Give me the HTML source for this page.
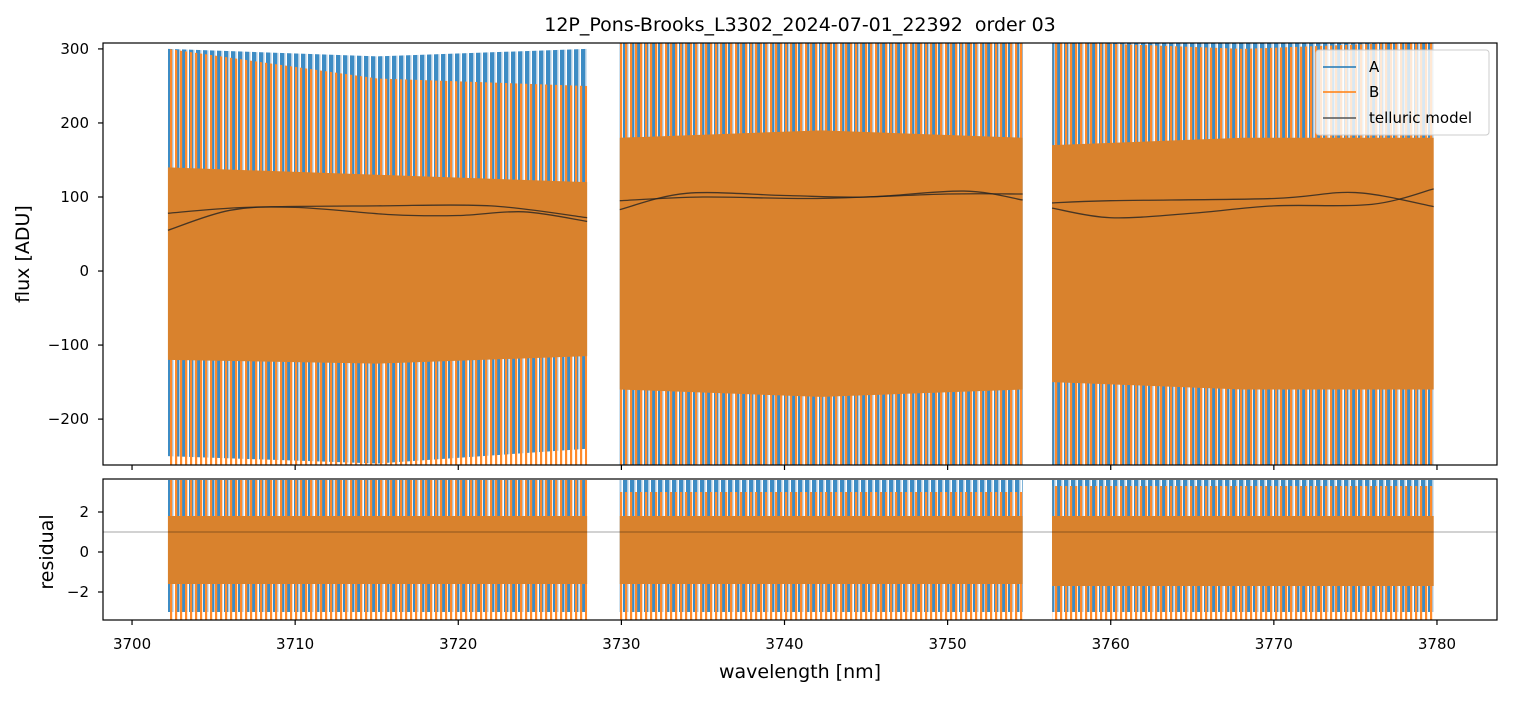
<!DOCTYPE html>
<html><head><meta charset="utf-8"><style>
body{margin:0;background:#fff;}
svg text{font-family:"DejaVu Sans","Liberation Sans",sans-serif;fill:#000;}
</style></head><body>
<svg id="c" width="1513" height="696" xmlns="http://www.w3.org/2000/svg"></svg>
<script>
// ---- data ----
const segStart = [3702.2, 3729.9, 3756.4];
const segEnd = [3727.9, 3754.6, 3779.8];
// flux envelopes per segment (at start, middle, end)
const aUpper = [[300, 290, 300], [310, 310, 310], [310, 310, 310]];
const aLower = [[-250, -260, -240], [-262, -262, -262], [-262, -262, -262]];
const bUpper = [[300, 260, 250], [310, 310, 310], [310, 300, 310]];
const bLower = [[-262, -262, -262], [-262, -262, -262], [-262, -262, -262]];
const coreUpper = [[140, 130, 120], [180, 190, 180], [170, 180, 180]];
const coreLower = [[-120, -125, -115], [-160, -170, -160], [-150, -160, -160]];
// telluric models
const tellWl = [[3702.2, 3707, 3715, 3722, 3727.9], [3729.9, 3735, 3742, 3750, 3754.6], [3756.4, 3760, 3770, 3775, 3779.8]];
const tellA = [[78, 86, 88, 88, 72], [95, 100, 98, 104, 104], [92, 95, 98, 106, 87]];
const tellWl2 = [[3702.2, 3706, 3710, 3716, 3720, 3724, 3727.9], [3729.9, 3734, 3740, 3745, 3751, 3754.6], [3756.4, 3760, 3765, 3770, 3776, 3779.8]];
const tellB = [[55, 82, 86, 76, 75, 80, 67], [83, 105, 102, 100, 108, 96], [85, 72, 78, 88, 90, 111]];
// residual envelopes
const rAUpper = [3.6, 3.6, 3.6];
const rALower = [-3.0, -3.0, -3.0];
const rBUpper = [3.6, 3.0, 3.3];
const rBLower = [-3.4, -3.4, -3.4];
const rCoreUpper = [1.8, 1.8, 1.8];
const rCoreLower = [-1.6, -1.6, -1.7];
const residRef = 1.0;
const xTicks = [3700, 3710, 3720, 3730, 3740, 3750, 3760, 3770, 3780];
const yTicksTop = [-200, -100, 0, 100, 200, 300];
const yTicksBot = [-2, 0, 2];

// ---- axes ----
const L = 103, R = 1497;
const T1 = 43, B1 = 465, T2 = 479, B2 = 620;
const xMin = 3698.22, xMax = 3783.68;
const y1Min = -262, y1Max = 308, y2Min = -3.4, y2Max = 3.65;
const X = v => L + (v - xMin) / (xMax - xMin) * (R - L);
const Y1 = v => B1 - (v - y1Min) / (y1Max - y1Min) * (B1 - T1);
const Y2 = v => B2 - (v - y2Min) / (y2Max - y2Min) * (B2 - T2);
const svg = document.getElementById('c');
const NS = 'http://www.w3.org/2000/svg';
function mk(tag, at, parent) { const e = document.createElementNS(NS, tag); for (const k in at) e.setAttribute(k, at[k]); (parent || svg).appendChild(e); return e; }

const defs = mk('defs', {});
const cp1 = mk('clipPath', {id: 'cp1'}, defs); mk('rect', {x: L, y: T1, width: R - L, height: B1 - T1}, cp1);
const cp2 = mk('clipPath', {id: 'cp2'}, defs); mk('rect', {x: L, y: T2, width: R - L, height: B2 - T2}, cp2);
const pa = mk('pattern', {id: 'pa', width: 7, height: 40, patternUnits: 'userSpaceOnUse'}, defs);
mk('rect', {x: 0, y: 0, width: 4, height: 40, fill: '#3d8cc4'}, pa);
mk('rect', {x: 4, y: 0, width: 1.5, height: 40, fill: '#a9c9e2'}, pa);
const pb = mk('pattern', {id: 'pb', width: 5, height: 40, patternUnits: 'userSpaceOnUse'}, defs);
mk('rect', {x: 0, y: 0, width: 2.2, height: 40, fill: '#ff8a2a'}, pb);
const g1 = mk('g', {'clip-path': 'url(#cp1)'});


const g2 = mk('g', {'clip-path': 'url(#cp2)'});



function band(g, s, up, lo, Yf, fill, op, name) {
  const m = (segStart[s] + segEnd[s]) / 2;
  const wl = up.length === 3 ? [segStart[s], m, segEnd[s]] : [segStart[s], segEnd[s]];
  const u = up.length === 3 ? up : [up[0], up[0]];
  const l = lo.length === 3 ? lo : [lo[0], lo[0]];
  let pts = wl.map((w, i) => X(w) + ',' + Yf(u[i]));
  pts = pts.concat(wl.slice().reverse().map((w, i) => X(w) + ',' + Yf(l[l.length - 1 - i])));
  const p = mk('polygon', {points: pts.join(' '), fill: fill, 'fill-opacity': op}, g);
  
  
}
for (let s = 0; s < 3; s++) {
  band(g1, s, aUpper[s], aLower[s], Y1, 'url(#pa)', 1, 'series-a-band');
  band(g1, s, bUpper[s], bLower[s], Y1, 'url(#pb)', 1, 'series-b-band');
  band(g1, s, coreUpper[s], coreLower[s], Y1, '#d9822d', 1, 'overlap-core-band');
  band(g2, s, [rAUpper[s]], [rALower[s]], Y2, 'url(#pa)', 1, 'resid-a-band');
  band(g2, s, [rBUpper[s]], [rBLower[s]], Y2, 'url(#pb)', 1, 'resid-b-band');
  band(g2, s, [rCoreUpper[s]], [rCoreLower[s]], Y2, '#d9822d', 1, 'resid-core-band');
}
function curve(wl, v) {
  const p = wl.map((w, i) => [X(w), Y1(v[i])]);
  let d = 'M' + p[0][0] + ',' + p[0][1];
  for (let i = 0; i < p.length - 1; i++) {
    const p0 = p[Math.max(0, i - 1)], p1 = p[i], p2 = p[i + 1], p3 = p[Math.min(p.length - 1, i + 2)];
    d += ' C' + (p1[0] + (p2[0] - p0[0]) / 6) + ',' + (p1[1] + (p2[1] - p0[1]) / 6) + ' ' + (p2[0] - (p3[0] - p1[0]) / 6) + ',' + (p2[1] - (p3[1] - p1[1]) / 6) + ' ' + p2[0] + ',' + p2[1];
  }
  return d;
}
for (let s = 0; s < 3; s++) {
  const a = mk('path', {d: curve(tellWl[s], tellA[s]), fill: 'none', stroke: '#222', 'stroke-opacity': 0.8, 'stroke-width': 1.3}, g1);
  
  
  const b = mk('path', {d: curve(tellWl2[s], tellB[s]), fill: 'none', stroke: '#222', 'stroke-opacity': 0.8, 'stroke-width': 1.3}, g1);
  
  
}
const rl = mk('line', {x1: L, x2: R, y1: Y2(residRef), y2: Y2(residRef), stroke: '#000', 'stroke-width': 0.6, 'stroke-opacity': 0.7}, g2);



for (const [t, b, n] of [[T1, B1, 'flux-axes-frame'], [T2, B2, 'residual-axes-frame']]) {
  const r = mk('rect', {x: L, y: t, width: R - L, height: b - t, fill: 'none', stroke: '#000', 'stroke-width': 1.2});
  
  
}
for (const v of xTicks) {
  mk('line', {x1: X(v), x2: X(v), y1: B1, y2: B1 + 5, stroke: '#000', 'stroke-width': 1.2});
  mk('line', {x1: X(v), x2: X(v), y1: B2, y2: B2 + 5, stroke: '#000', 'stroke-width': 1.2});
  const t = mk('text', {x: X(v), y: 649, 'text-anchor': 'middle', 'font-size': 15});
  t.textContent = v;
  
  
}
const fmt = v => v < 0 ? '\u2212' + Math.abs(v) : String(v);
for (const v of yTicksTop) {
  mk('line', {x1: L - 5, x2: L, y1: Y1(v), y2: Y1(v), stroke: '#000', 'stroke-width': 1.2});
  const t = mk('text', {x: L - 14, y: Y1(v) + 5, 'text-anchor': 'end', 'font-size': 15});
  t.textContent = fmt(v);
  
  
}
for (const v of yTicksBot) {
  mk('line', {x1: L - 5, x2: L, y1: Y2(v), y2: Y2(v), stroke: '#000', 'stroke-width': 1.2});
  const t = mk('text', {x: L - 14, y: Y2(v) + 5, 'text-anchor': 'end', 'font-size': 15});
  t.textContent = fmt(v);
  
  
}
</script>
<svg width="1513" height="696" style="position:absolute;left:0;top:0;pointer-events:none" xmlns="http://www.w3.org/2000/svg">
  <text x="800" y="31" text-anchor="middle" font-size="19">12P_Pons-Brooks_L3302_2024-07-01_22392&#160; order 03</text>
  <text x="800" y="678" text-anchor="middle" font-size="19">wavelength [nm]</text>
  <text transform="translate(29,254) rotate(-90)" text-anchor="middle" font-size="19">flux [ADU]</text>
  <text transform="translate(53,552) rotate(-90)" text-anchor="middle" font-size="19">residual</text>
  <g>
    <rect x="1316" y="50" width="173" height="85" rx="3" fill="#fff" fill-opacity="0.8" stroke="#ccc"/>
    <line x1="1323" x2="1356" y1="67" y2="67" stroke="#1f77b4" stroke-width="1.5"/>
    <text x="1369" y="72" font-size="15">A</text>
    <line x1="1323" x2="1356" y1="92" y2="92" stroke="#ff7f0e" stroke-width="1.5"/>
    <text x="1369" y="97" font-size="15">B</text>
    <line x1="1323" x2="1356" y1="118" y2="118" stroke="#555" stroke-width="1.5"/>
    <text x="1369" y="123" font-size="15">telluric model</text>
  </g>
</svg>
</body></html>
